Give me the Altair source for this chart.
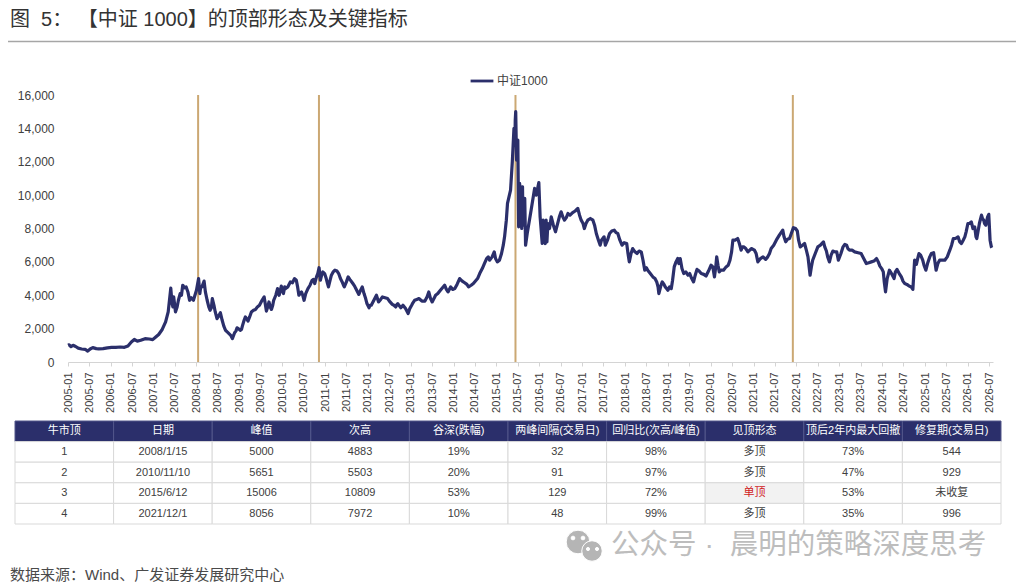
import altair as alt
import pandas as pd

FONT = "Liberation Sans, Noto Sans CJK SC"
NAVY = "#2B2F6B"

series_name = "中证1000"
years = [2005.00,2005.03,2005.07,2005.12,2005.18,2005.24,2005.32,2005.40,2005.46,2005.52,2005.58,2005.66,2005.72,2005.82,2005.92,
 2006.02,2006.12,2006.22,2006.32,2006.40,2006.48,2006.55,2006.62,2006.70,2006.80,2006.90,2006.98,
 2007.05,2007.12,2007.20,2007.28,2007.34,2007.40,2007.43,2007.45,2007.47,2007.51,2007.58,2007.65,2007.68,2007.76,2007.80,2007.84,2007.93,
 2008.00,2008.05,2008.08,2008.13,2008.18,2008.21,2008.29,2008.32,2008.37,2008.41,2008.48,2008.56,2008.60,2008.68,2008.76,2008.84,2008.89,2008.95,
 2009.02,2009.07,2009.14,2009.20,2009.28,2009.38,2009.47,2009.58,2009.63,2009.69,2009.75,2009.80,2009.89,2009.93,2009.98,
 2010.03,2010.08,2010.19,2010.29,2010.33,2010.39,2010.45,2010.51,2010.60,2010.70,2010.76,2010.80,2010.86,2010.89,2010.95,
 2011.03,2011.08,2011.15,2011.23,2011.32,2011.40,2011.45,2011.54,2011.65,2011.72,2011.79,2011.87,2011.95,
 2012.03,2012.08,2012.20,2012.25,2012.34,2012.46,2012.57,2012.65,2012.70,2012.77,2012.82,2012.94,
 2013.02,2013.09,2013.19,2013.33,2013.42,2013.50,2013.58,2013.69,2013.79,2013.87,2013.93,
 2014.03,2014.14,2014.26,2014.35,2014.46,2014.56,2014.67,2014.77,2014.84,2014.95,
 2015.02,2015.12,2015.19,2015.26,2015.33,2015.37,2015.41,2015.45,2015.47,2015.50,2015.52,2015.55,2015.58,2015.61,2015.64,2015.68,2015.72,2015.81,2015.89,2015.93,2015.99,
 2016.02,2016.07,2016.11,2016.14,2016.20,2016.28,2016.38,2016.51,2016.59,2016.67,2016.78,2016.90,2016.98,
 2017.05,2017.13,2017.25,2017.33,2017.42,2017.48,2017.54,2017.64,2017.75,2017.83,2017.93,
 2018.04,2018.10,2018.18,2018.28,2018.38,2018.46,2018.53,2018.65,2018.74,2018.79,2018.87,2018.94,
 2019.00,2019.08,2019.15,2019.23,2019.29,2019.37,2019.47,2019.51,2019.60,2019.68,2019.78,2019.89,
 2020.01,2020.09,2020.14,2020.20,2020.36,2020.45,2020.52,2020.63,2020.71,2020.77,2020.87,
 2021.02,2021.10,2021.22,2021.33,2021.41,2021.53,2021.68,2021.75,2021.84,2021.93,
 2022.02,2022.09,2022.19,2022.27,2022.32,2022.38,2022.50,2022.63,2022.70,2022.77,2022.85,2022.94,2022.98,
 2023.09,2023.17,2023.24,2023.36,2023.51,2023.63,2023.75,2023.87,2023.95,
 2024.03,2024.08,2024.17,2024.28,2024.35,2024.45,2024.53,2024.63,2024.72,2024.76,2024.80,2024.86,2024.95,
 2025.02,2025.11,2025.20,2025.26,2025.34,2025.46,2025.58,2025.66,2025.77,2025.85,2025.93,
 2026.00,2026.08,2026.16,2026.21,2026.32,2026.37,2026.42,2026.49,2026.52,2026.55,2026.56]
values = [1000,1030,920,1000,930,830,780,760,650,780,860,800,790,800,850,
 880,880,900,880,960,1200,1350,1250,1300,1400,1380,1340,
 1500,1650,1950,2400,3000,4430,3500,3300,3900,3000,3700,4000,4600,4500,4200,3700,3700,
 4300,5000,4100,4500,4850,4200,3300,3100,3800,3400,2600,2950,2500,1900,1700,1400,1750,2050,
 1900,2150,2700,2450,3000,3150,3400,3900,3050,3600,3150,3700,4400,4000,4550,
 4100,4400,4800,5000,4900,4000,4200,3700,4400,4900,4700,5100,5650,4900,5400,
 5000,4500,5200,5500,5300,4800,4500,5100,4700,4400,4050,4500,3800,
 3250,3400,4000,3600,3900,3800,3450,3300,3500,3250,3400,2900,
 3400,3700,3800,3650,4200,3600,4000,4300,4600,4200,
 4500,4400,5000,4750,4500,4700,5000,5600,6200,6100,6600,
 6000,6500,7500,9500,10300,12000,14000,15000,12100,13300,8100,10500,8700,10500,8400,7000,7700,9100,10400,10000,10750,
 8700,7100,8300,7100,8300,8700,7800,9000,8500,8900,8950,9200,8500,
 8000,8500,8500,7700,7000,7400,7000,7700,7900,7700,7000,
 7100,6000,6800,6500,6600,5500,5500,5100,4800,4100,4800,4500,
 4300,4400,5700,6200,6200,5300,5200,5300,4800,5550,5300,5150,
 5800,5100,6300,5400,5700,6100,7300,7400,6700,6900,6600,
 6700,6000,6300,6300,6800,7300,7900,7200,7400,8050,
 7850,6900,7100,6300,5200,6100,6900,7200,6650,6000,6650,6600,6100,
 6900,7000,6700,6600,6500,5900,6000,6200,5750,
 5400,4200,5500,5000,5550,5100,4700,4550,4350,6100,5850,6500,6100,
 5500,6300,6550,5500,6100,6100,6700,7400,7500,7100,7500,
 8300,8400,8100,7400,8800,8500,8200,8850,7300,6900,6850]

# further readings between the turning points above
more_years = [2007.55,2007.62,2007.72,2007.88,2008.10,2008.25,2008.35,2008.44,2008.52,2008.64,2008.72,2008.80,2008.92,2008.98,
 2009.05,2009.11,2009.17,2009.24,2009.33,2009.42,2009.53,2009.66,2009.72,2009.78,2009.85,
 2010.00,2010.06,2010.13,2010.24,2010.36,2010.42,2010.48,2010.55,2010.65,2010.73,2010.83,2010.92,2010.99,
 2011.06,2011.12,2011.19,2011.28,2011.36,2011.43,2011.50,2011.58,2011.69,2011.76,2011.83,2011.91,2011.98,
 2012.05,2012.14,2012.30,2012.40,2012.52,2012.61,2012.68,2012.74,2012.88,2012.98,
 2013.05,2013.14,2013.26,2013.38,2013.46,2013.54,2013.63,2013.74,2013.83,2013.98,
 2014.08,2014.20,2014.31,2014.41,2014.51,2014.61,2014.72,2014.81,2014.90,2014.98,2015.07,2015.16,2015.23,
 2015.43,2015.44,2015.53,2015.54,2015.56,2015.57,2015.59,2015.60,2015.62,2015.66,
 2016.09,2016.12,2016.16,2016.18,
 2016.24,2016.33,2016.44,2016.47,2016.55,2016.63,2016.72,2016.84,2016.94,
 2017.02,2017.09,2017.19,2017.29,2017.38,2017.45,2017.51,2017.59,2017.69,2017.79,2017.88,2017.98,
 2018.07,2018.14,2018.23,2018.33,2018.42,2018.50,2018.59,2018.70,2018.77,2018.84,2018.91,2018.97,
 2019.04,2019.11,2019.19,2019.26,2019.33,2019.42,2019.55,2019.64,2019.73,2019.84,2019.95,
 2020.05,2020.12,2020.17,2020.24,2020.30,2020.41,2020.49,2020.57,2020.67,2020.74,2020.82,2020.95,
 2021.06,2021.16,2021.28,2021.37,2021.47,2021.60,2021.71,2021.79,2021.88,2021.98,
 2022.05,2022.14,2022.23,2022.35,2022.44,2022.56,2022.66,2022.73,2022.81,2022.90,
 2023.04,2023.13,2023.20,2023.30,2023.44,2023.57,2023.69,2023.81,2023.91,2023.99,
 2024.05,2024.12,2024.22,2024.31,2024.40,2024.49,2024.58,2024.68,2024.83,2024.90,2024.98,
 2025.06,2025.15,2025.23,2025.30,2025.40,2025.52,2025.62,2025.71,2025.81,2025.89,2025.96,
 2026.04,2026.12,2026.19,2026.27,2026.34,2026.39,2026.46]
more_values = [3300,4100,4450,3850,4500,3700,3250,3000,2750,2150,1800,1600,1850,2000,
 1950,2500,2600,2700,3100,3300,3700,3300,3300,3400,4000,
 4300,4500,4500,4750,4500,4100,4000,4100,4600,4950,5300,5200,5300,
 4700,4900,5400,5450,5000,4600,4800,4950,4550,4200,4300,4100,3500,
 3400,3700,3750,3850,3600,3400,3450,3350,3200,3200,
 3550,3750,3650,3900,3800,3800,4100,4450,4350,4350,
 4650,4850,4650,4600,4850,5300,5900,6300,6300,6200,6100,7000,8500,
 13000,14500,8300,10700,8500,10300,8000,10400,8200,9800,
 8500,7300,8500,7200,
 8000,8200,8400,8700,8700,8650,8800,9050,8800,
 8300,8300,8600,8200,7300,7300,7500,7300,7850,7750,7300,7150,
 6500,6500,6600,6650,6100,5650,5300,5000,4500,4600,4650,4400,
 4500,4900,6000,5900,5600,5400,5050,5200,5450,5250,5450,
 5700,5700,5800,5500,5500,5800,6600,7300,7100,6900,6800,6800,
 6500,6200,6150,6500,7000,7600,7500,7350,7700,8000,
 7300,7000,6700,5700,6500,7000,6900,6300,6400,6600,
 6500,7050,6800,6700,6550,6200,5950,6050,6000,5600,
 4800,5000,5300,5400,5300,4850,4650,4500,6200,6400,5800,
 5900,6500,6000,5900,6100,6300,7000,7400,7200,7300,7800,
 8300,8000,7500,8300,8600,8300,8700]

peak_dates = ["2008-01-15","2010-11-10","2015-06-12","2021-12-01"]
tick_labels = [f"{y}-{m}" for y in range(2005, 2027) for m in ("01", "07")]
y_ticks = list(range(0, 16001, 2000))

NB = "\u00a0"
title_text = f"图{NB}{NB}5：{NB}【中证{NB}1000】的顶部形态及关键指标"
source_text = "数据来源：Wind、广发证券发展研究中心"
watermark_text = f"公众号{NB}·{NB}{NB}晨明的策略深度思考"

table_header = ["牛市顶","日期","峰值","次高","谷深(跌幅)","两峰间隔(交易日)","回归比(次高/峰值)","见顶形态","顶后2年内最大回撤","修复期(交易日)"]
table_rows = [
 ["1","2008/1/15","5000","4883","19%","32","98%","多顶","73%","544"],
 ["2","2010/11/10","5651","5503","20%","91","97%","多顶","47%","929"],
 ["3","2015/6/12","15006","10809","53%","129","72%","单顶","53%","未收复"],
 ["4","2021/12/1","8056","7972","10%","48","99%","多顶","35%","996"],
]

def to_date(v):
    y = int(v)
    return (pd.Timestamp(year=y, month=1, day=1) + pd.Timedelta(days=(v - y) * 365.25)).strftime("%Y-%m-%d")

line_df = pd.DataFrame({"year": years + more_years, "value": values + more_values}).sort_values("year")
line_df["date"] = line_df["year"].map(to_date)
line_df["name"] = series_name
peak_df = pd.DataFrame({"date": peak_dates})

x_enc = alt.X("date:T", title=None,
    scale=alt.Scale(domain=["2005-01-01", "2026-08-03"]),
    axis=alt.Axis(values=[alt.DateTime(year=int(t[:4]), month=int(t[5:]), date=1) for t in tick_labels],
        format="%Y-%m", labelAngle=270, labelAlign="right", labelBaseline="middle",
        labelFontSize=11, labelFont=FONT, labelColor="#404040", labelPadding=6,
        domainColor="#D4D4D4", tickColor="#D4D4D4", tickSize=4, grid=False, labelOverlap=False))

rules = alt.Chart(peak_df).mark_rule(color="#CBA873", strokeWidth=2).encode(x=x_enc)
line = alt.Chart(line_df).mark_line(strokeWidth=3.2, strokeJoin="round").encode(
    x=x_enc,
    y=alt.Y("value:Q", title=None, scale=alt.Scale(domain=[0, 16000], nice=False),
        axis=alt.Axis(values=y_ticks, format=",d", labelFontSize=12, labelFont=FONT, labelColor="#404040",
            domain=False, ticks=False, grid=False, labelPadding=14)),
    color=alt.Color("name:N", title=None, scale=alt.Scale(domain=[series_name], range=[NAVY]),
        legend=alt.Legend(orient="none", legendX=401, legendY=-27, labelFont=FONT, labelFontSize=12,
            labelColor="#404040", symbolType="stroke", symbolSize=520, symbolStrokeWidth=2.8, labelOffset=2)),
)
main = alt.layer(rules, line)

cells = []
for r, row in enumerate([table_header] + table_rows):
    for c, t in enumerate(row):
        head = r == 0
        flag = t == "单顶"
        cells.append({"c0": c, "c1": c + 1, "r0": r, "r1": r + 1, "cm": c + 0.5, "rm": r + 0.5, "t": t,
            "fill": NAVY if head else ("#F2F2F2" if flag else "#FFFFFF"),
            "ink": "#FFFFFF" if head else ("#D0201C" if flag else "#404040"),
            "edge": "#52568A" if head else "#D9D9D9"})
cell_df = pd.DataFrame(cells)
tx = alt.Scale(domain=[0, 10], range=[-53, 933], nice=False, zero=False)
ty = alt.Scale(domain=[0, 5], range=[326, 429], nice=False, zero=False)
table_rect = alt.Chart(cell_df).mark_rect(strokeWidth=1).encode(
    x=alt.X("c0:Q", scale=tx, axis=None), x2="c1:Q",
    y=alt.Y("r0:Q", scale=ty, axis=None), y2="r1:Q",
    fill=alt.Fill("fill:N", scale=None), stroke=alt.Stroke("edge:N", scale=None))
table_text = alt.Chart(cell_df).mark_text(font=FONT, fontSize=11, baseline="middle", align="center").encode(
    x=alt.X("cm:Q", scale=tx, axis=None),
    y=alt.Y("rm:Q", scale=ty, axis=None),
    text="t:N", color=alt.Color("ink:N", scale=None))
table = alt.layer(table_rect, table_text)

def note(text, x, y, size, color, align="left", **kw):
    return alt.Chart(pd.DataFrame({"t": [text]})).mark_text(font=FONT, fontSize=size, color=color,
        align=align, baseline="middle", **kw).encode(x=alt.value(x), y=alt.value(y), text="t:N")

def blob(x, y, size, color):
    return alt.Chart(pd.DataFrame({"k": [0]})).mark_point(filled=True, shape="circle", size=size, color=color,
        opacity=1, stroke="#FFFFFF", strokeWidth=1).encode(x=alt.value(x), y=alt.value(y))

header_line = alt.Chart(pd.DataFrame({"k": [0]})).mark_rule(color="#A6A6A6", strokeWidth=1.6).encode(
    x=alt.value(-60), x2=alt.value(948), y=alt.value(-53.5))

anno = alt.layer(
    note(title_text, -58, -75, 20, "#333333"),
    header_line,
    note(source_text, -58, 480, 15, "#4A4A4A"),
    note(watermark_text, 543, 450, 28.5, "#BDBDBD"),
    blob(510, 447, 560, "#B5B5B5"),
    blob(524, 456, 420, "#B5B5B5"),
    blob(505, 443, 14, "#FFFFFF"),
    blob(515, 443, 14, "#FFFFFF"),
    blob(520, 454, 10, "#FFFFFF"),
    blob(529, 454, 10, "#FFFFFF"),
)

chart = alt.layer(main, table, anno).resolve_scale(x="independent", y="independent", color="independent").properties(
    width=925, height=267,
    padding={"left": 60, "top": 87, "right": 23, "bottom": 222},
    autosize=alt.AutoSizeParams(type="none", contains="content"),
    background="white",
).configure_view(stroke=None)

chart.save("out.html", embed_options={"renderer": "svg", "actions": False})
